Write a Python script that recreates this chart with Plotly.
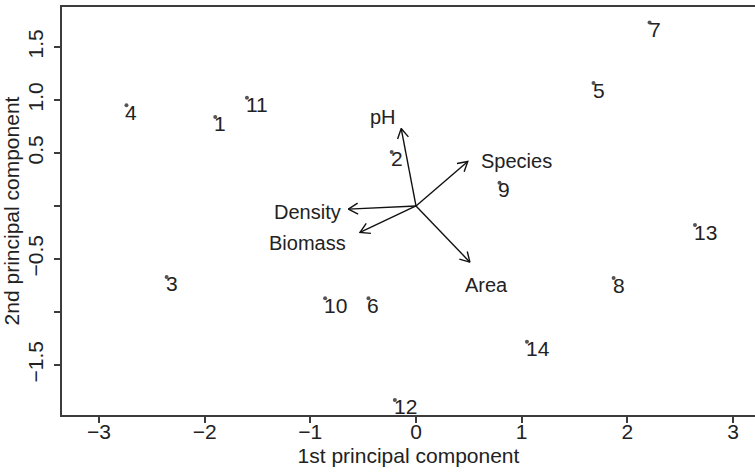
import numpy as np
import plotly.graph_objects as go

# ---- data ----
obs_labels = ["1", "2", "3", "4", "5", "6", "7", "8", "9", "10", "11", "12", "13", "14"]
obs_pc1 = [-1.90, -0.23, -2.36, -2.74, 1.68, -0.45, 2.21, 1.87, 0.79, -0.86, -1.60, -0.20, 2.64, 1.05]
obs_pc2 = [0.84, 0.51, -0.67, 0.95, 1.16, -0.87, 1.73, -0.68, 0.22, -0.87, 1.02, -1.83, -0.18, -1.28]

var_names = ["pH", "Species", "Density", "Biomass", "Area"]
var_pc1 = [-0.14, 0.49, -0.64, -0.53, 0.51]
var_pc2 = [0.73, 0.42, -0.03, -0.25, -0.53]
var_label_pc1 = [-0.31, 0.95, -1.03, -1.03, 0.67]
var_label_pc2 = [0.84, 0.42, -0.06, -0.35, -0.75]

x_ticks = [-3, -2, -1, 0, 1, 2, 3]
x_tick_text = ["\u22123", "\u22122", "\u22121", "0", "1", "2", "3"]
y_ticks = [-1.5, -1.0, -0.5, 0, 0.5, 1.0, 1.5]
y_tick_text = ["\u22121.5", "", "\u22120.5", "", "0.5", "1.0", "1.5"]

x_range = [-3.350, 3.208]
y_range = [-1.972, 1.877]

# ---- layout geometry ----
W, H = 755, 474
ML, MR, MT, MB = 62, 0, 7, 59
sx = (W - ML - MR) / (x_range[1] - x_range[0])
sy = (H - MT - MB) / (y_range[1] - y_range[0])

FONT = "Liberation Sans, Arial, sans-serif"
TXT = "#222222"

fig = go.Figure()

# arrows (shaft + open V head), computed from the loadings
ax, ay = [], []
head_len, head_ang = 11.0, np.deg2rad(30)
for tx, ty in zip(var_pc1, var_pc2):
    ax += [0, tx, None]
    ay += [0, ty, None]
    px, py = tx * sx, ty * sy
    n = np.hypot(px, py)
    bx, by = -px / n, -py / n
    wings = []
    for s in (1, -1):
        c, si = np.cos(s * head_ang), np.sin(s * head_ang)
        wx = (bx * c - by * si) * head_len
        wy = (bx * si + by * c) * head_len
        wings.append((tx + wx / sx, ty + wy / sy))
    ax += [wings[0][0], tx, wings[1][0], None]
    ay += [wings[0][1], ty, wings[1][1], None]

fig.add_trace(go.Scatter(x=ax, y=ay, mode="lines",
                         line=dict(color="#111111", width=1.4),
                         hoverinfo="skip", showlegend=False))

# observation points
fig.add_trace(go.Scatter(x=obs_pc1, y=obs_pc2, mode="markers",
                         marker=dict(size=4, color="#555555"),
                         text=obs_labels, hoverinfo="text", showlegend=False))

annotations = []
for lab, x, y in zip(obs_labels, obs_pc1, obs_pc2):
    annotations.append(dict(x=x, y=y, text=lab, showarrow=False,
                            xanchor="left", yanchor="middle",
                            xshift=-3, yshift=-7,
                            font=dict(family=FONT, size=21, color=TXT)))
for lab, x, y in zip(var_names, var_label_pc1, var_label_pc2):
    annotations.append(dict(x=x, y=y, text=lab, showarrow=False,
                            xanchor="center", yanchor="middle",
                            font=dict(family=FONT, size=20, color=TXT)))

fig.update_layout(
    width=W, height=H,
    margin=dict(l=ML, r=MR, t=MT, b=MB, pad=0),
    paper_bgcolor="white", plot_bgcolor="white",
    font=dict(family=FONT, size=21, color=TXT),
    annotations=annotations,
    showlegend=False,
)
fig.update_xaxes(range=x_range, tickvals=x_ticks, ticktext=x_tick_text,
                 showgrid=False, zeroline=False,
                 showline=True, linecolor="#3c3c3c", linewidth=2, mirror=True,
                 ticks="outside", ticklen=6, tickwidth=1.5, tickcolor="#3c3c3c",
                 ticklabelstandoff=-9,
                 tickfont=dict(size=21, family=FONT, color=TXT),
                 title=dict(text="1st principal component", standoff=6,
                            font=dict(size=21, family=FONT, color=TXT)),
                 automargin=False)
fig.update_yaxes(range=y_range, tickvals=y_ticks, ticktext=y_tick_text,
                 showgrid=False, zeroline=False,
                 showline=True, linecolor="#3c3c3c", linewidth=2, mirror=False,
                 ticks="outside", ticklen=6, tickwidth=1.5, tickcolor="#3c3c3c",
                 tickangle=-90, ticklabelstandoff=3,
                 tickfont=dict(size=21, family=FONT, color=TXT),
                 title=dict(text="2nd principal component", standoff=0,
                            font=dict(size=21, family=FONT, color=TXT)),
                 automargin=False)

fig.write_html("out.html", config={"displayModeBar": False},
               post_script="document.body.style.margin='0';document.body.style.overflow='hidden';")
